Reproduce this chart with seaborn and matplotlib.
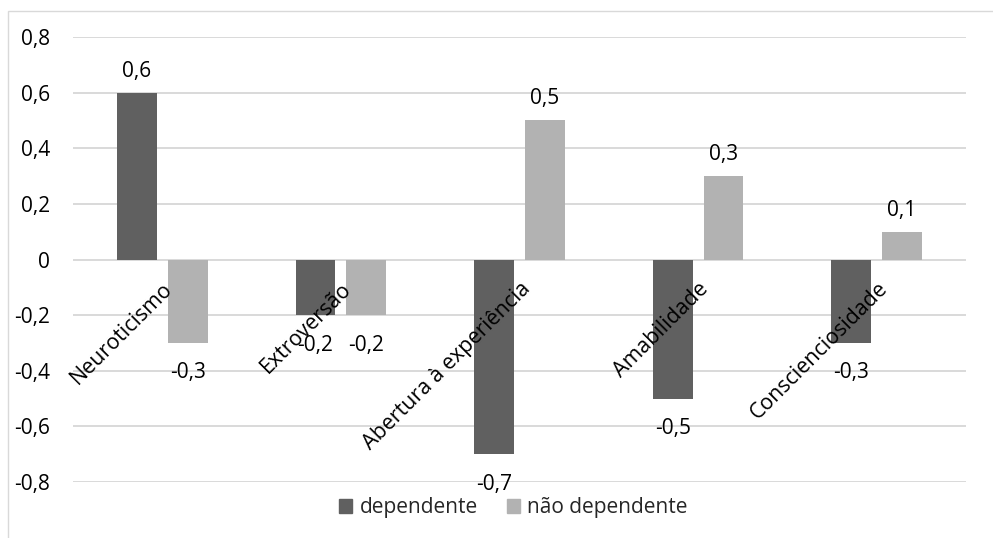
import pandas as pd
import seaborn as sns
import matplotlib.pyplot as plt
from matplotlib.patches import Rectangle, Patch
from matplotlib.ticker import FuncFormatter

categorias = ["Neuroticismo", "Extroversão", "Abertura à experiência",
              "Amabilidade", "Conscienciosidade"]
dependente = [0.6, -0.2, -0.7, -0.5, -0.3]
nao_dependente = [-0.3, -0.2, 0.5, 0.3, 0.1]
grupos = ["dependente", "não dependente"]
y_ticks = [-0.8, -0.6, -0.4, -0.2, 0, 0.2, 0.4, 0.6, 0.8]

cores = ["#606060", "#B2B2B2"]
grid_cor = "#D9D9D9"


def virgula(v):
    if abs(v) < 1e-9:
        return "0"
    return f"{v:.1f}".replace(".", ",")


def main():
    sns.set_style("white")
    plt.rcParams["font.family"] = ["Open Sans", "DejaVu Sans"]
    plt.rcParams["font.size"] = 15

    df = pd.DataFrame({
        "categoria": categorias * 2,
        "grupo": [grupos[0]] * len(categorias) + [grupos[1]] * len(categorias),
        "valor": dependente + nao_dependente,
    })

    fig = plt.figure(figsize=(9.93, 5.38), dpi=100)
    ax = fig.add_axes([73 / 993, 1 - 482 / 538, (966 - 73) / 993, (482 - 37) / 538])

    # grelha desenhada atras das barras, eixo (rotulos) por cima
    for t in y_ticks:
        ax.axhline(t, color=grid_cor, linewidth=1.4, zorder=0)

    sns.barplot(data=df, x="categoria", y="valor", hue="grupo", palette=cores,
                width=0.568, gap=0.215, linewidth=0, saturation=1, ax=ax)
    ax.legend_.remove()

    for cont in ax.containers:
        for b in cont:
            v = b.get_height()
            x = b.get_x() + b.get_width() / 2
            if v >= 0:
                ax.annotate(virgula(v), (x, v), xytext=(0, 8), textcoords="offset points",
                            ha="center", va="bottom", fontsize=15, color="#000000")
            else:
                ax.annotate(virgula(v), (x, v), xytext=(0, -14), textcoords="offset points",
                            ha="center", va="top", fontsize=15, color="#000000")

    ax.set_ylim(-0.8, 0.8)
    ax.set_xlim(-0.5, len(categorias) - 0.5)
    ax.set_yticks(y_ticks)
    ax.yaxis.set_major_formatter(FuncFormatter(lambda v, p: virgula(v)))
    ax.set_axisbelow(False)
    ax.set_xlabel("")
    ax.set_ylabel("")
    for s in ["top", "right", "left", "bottom"]:
        ax.spines[s].set_visible(False)
    ax.spines["bottom"].set_position(("data", 0))

    ax.tick_params(axis="y", length=0, pad=16.5, labelsize=15, labelcolor="#000000")
    ax.tick_params(axis="x", length=0, pad=13.5, labelsize=15.4, labelcolor="#000000")
    for lab in ax.get_xticklabels():
        lab.set_rotation(45)
        lab.set_ha("right")
        lab.set_va("top")
        lab.set_rotation_mode("anchor")

    handles = [Patch(color=c, label=g) for c, g in zip(cores, grupos)]
    fig.legend(handles=handles, loc="center", bbox_to_anchor=(0.517, 1 - 508 / 538),
               ncol=2, frameon=False, fontsize=15, handlelength=0.62,
               handleheight=0.62, handletextpad=0.35, columnspacing=1.4)

    fig.add_artist(Rectangle((8 / 993, -0.1), 1.2, 1.1 - 11 / 538,
                             transform=fig.transFigure, fill=False,
                             edgecolor=grid_cor, linewidth=1))

    fig.savefig("out.png", dpi=100)


if __name__ == "__main__":
    main()
